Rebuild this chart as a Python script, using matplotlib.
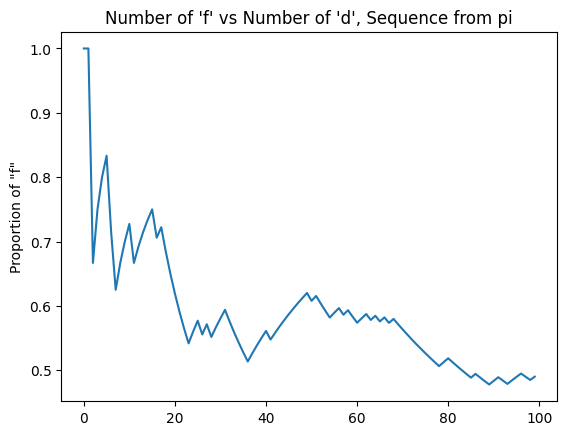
import matplotlib
matplotlib.use("Agg")
import matplotlib.pyplot as plt

steps = list(range(100))
proportion_f = [
    1.0, 1.0, 0.6667, 0.75, 0.8, 0.8333, 0.7143, 0.625, 0.6667, 0.7,
    0.7273, 0.6667, 0.6923, 0.7143, 0.7333, 0.75, 0.7059, 0.7222, 0.6842, 0.65,
    0.619, 0.5909, 0.5652, 0.5417, 0.56, 0.5769, 0.5556, 0.5714, 0.5517, 0.5667,
    0.5806, 0.5938, 0.5758, 0.5588, 0.5429, 0.5278, 0.5135, 0.5263, 0.5385, 0.55,
    0.561, 0.5476, 0.5581, 0.5682, 0.5778, 0.587, 0.5957, 0.6042, 0.6122, 0.62,
    0.6078, 0.6154, 0.6038, 0.5926, 0.5818, 0.5893, 0.5965, 0.5862, 0.5932, 0.5833,
    0.5738, 0.5806, 0.5873, 0.5781, 0.5846, 0.5758, 0.5821, 0.5735, 0.5797, 0.5714,
    0.5634, 0.5556, 0.5479, 0.5405, 0.5333, 0.5263, 0.5195, 0.5128, 0.5063, 0.5125,
    0.5185, 0.5122, 0.506, 0.5, 0.4941, 0.4884, 0.4943, 0.4886, 0.4831, 0.4778,
    0.4835, 0.4891, 0.4839, 0.4787, 0.4842, 0.4896, 0.4948, 0.4898, 0.4848, 0.49,
]

fig, ax = plt.subplots(figsize=(6.4, 4.8), dpi=100)
ax.plot(steps, proportion_f)
ax.set_title("Number of 'f' vs Number of 'd', Sequence from pi")
ax.set_ylabel('Proportion of "f"')
fig.savefig("out.png", dpi=100, bbox_inches="tight")
